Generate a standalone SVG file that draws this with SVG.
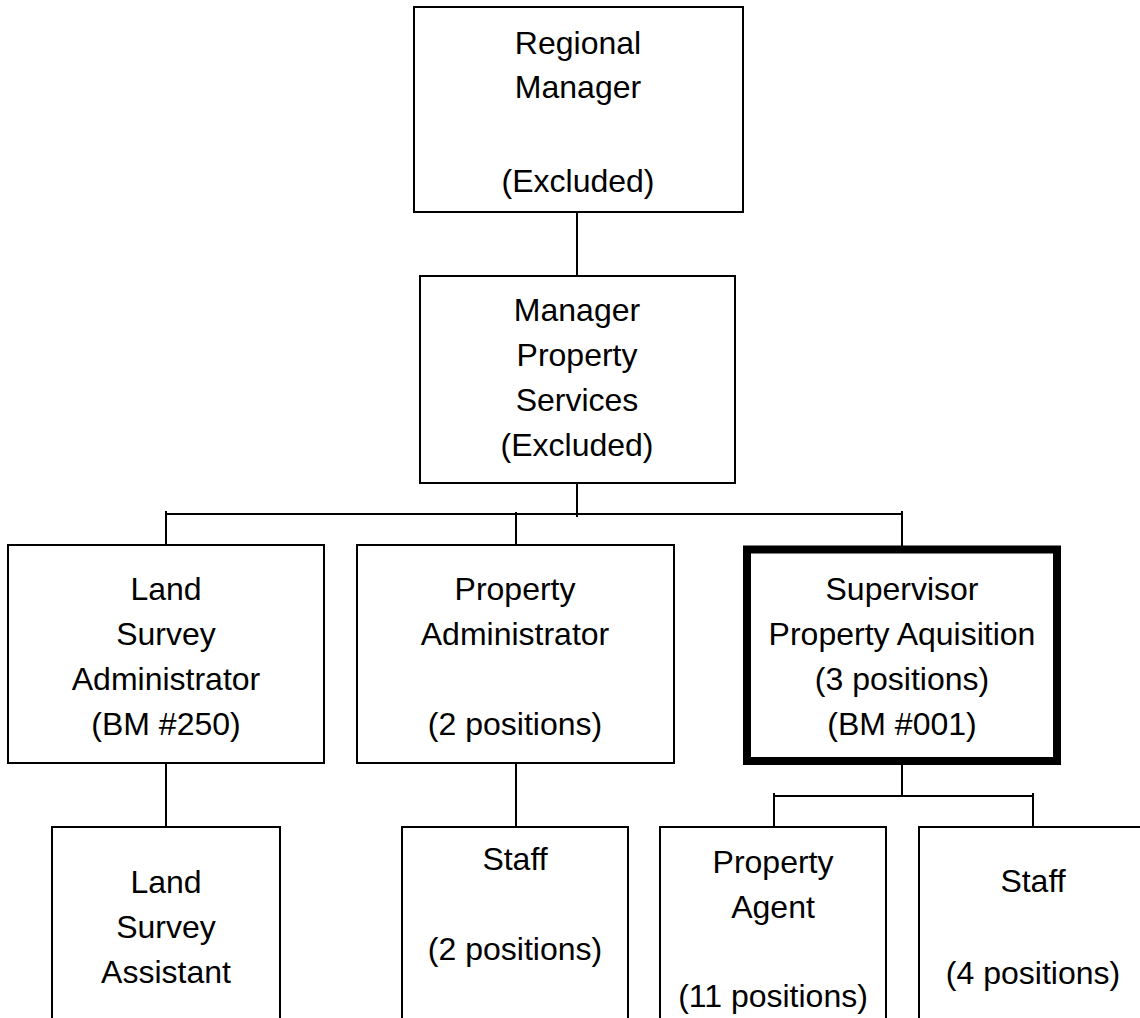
<svg xmlns="http://www.w3.org/2000/svg" width="1140" height="1018" viewBox="0 0 1140 1018">
<style>
.box{fill:#fff;stroke:#000;stroke-width:2}
.thick{fill:#fff;stroke:#000;stroke-width:8}
.t{font-family:"Liberation Sans",Arial,sans-serif;font-size:32px;fill:#000;text-anchor:middle}
.c{stroke:#000;stroke-width:2;fill:none}
</style>
<rect width="1140" height="1018" fill="#fff"/>
<g id="connectors">
<line class="c" x1="577" y1="212" x2="577" y2="276"/>
<line class="c" x1="577" y1="483" x2="577" y2="517"/>
<line class="c" x1="165" y1="514" x2="902" y2="514"/>
<line class="c" x1="166" y1="511" x2="166" y2="545"/>
<line class="c" x1="516" y1="512" x2="516" y2="545"/>
<line class="c" x1="902" y1="511" x2="902" y2="546"/>
<line class="c" x1="166" y1="763" x2="166" y2="827"/>
<line class="c" x1="516" y1="763" x2="516" y2="827"/>
<line class="c" x1="902" y1="765" x2="902" y2="796"/>
<line class="c" x1="774" y1="796" x2="1033" y2="796"/>
<line class="c" x1="774" y1="793" x2="774" y2="827"/>
<line class="c" x1="1033" y1="793" x2="1033" y2="827"/>
</g>
<g id="regional-manager">
<rect class="box" x="414" y="7" width="329" height="205"/>
<text class="t" x="578" y="54">Regional</text>
<text class="t" x="578" y="98">Manager</text>
<text class="t" x="578" y="192">(Excluded)</text>
</g>
<g id="manager-property-services">
<rect class="box" x="420" y="276" width="315" height="207"/>
<text class="t" x="577" y="321">Manager</text>
<text class="t" x="577" y="366">Property</text>
<text class="t" x="577" y="411">Services</text>
<text class="t" x="577" y="456">(Excluded)</text>
</g>
<g id="land-survey-administrator">
<rect class="box" x="8" y="545" width="316" height="218"/>
<text class="t" x="166" y="600">Land</text>
<text class="t" x="166" y="645">Survey</text>
<text class="t" x="166" y="690">Administrator</text>
<text class="t" x="166" y="735">(BM #250)</text>
</g>
<g id="property-administrator">
<rect class="box" x="357" y="545" width="317" height="218"/>
<text class="t" x="515" y="600">Property</text>
<text class="t" x="515" y="645">Administrator</text>
<text class="t" x="515" y="735">(2 positions)</text>
</g>
<g id="supervisor-property-aquisition">
<rect class="thick" x="747" y="549.5" width="310" height="211.5"/>
<text class="t" x="902" y="600">Supervisor</text>
<text class="t" x="902" y="645">Property Aquisition</text>
<text class="t" x="902" y="690">(3 positions)</text>
<text class="t" x="902" y="735">(BM #001)</text>
</g>
<g id="land-survey-assistant">
<rect class="box" x="52" y="827" width="228" height="200"/>
<text class="t" x="166" y="893">Land</text>
<text class="t" x="166" y="938">Survey</text>
<text class="t" x="166" y="983">Assistant</text>
</g>
<g id="staff-2">
<rect class="box" x="402" y="827" width="226" height="200"/>
<text class="t" x="515" y="870">Staff</text>
<text class="t" x="515" y="960">(2 positions)</text>
</g>
<g id="property-agent">
<rect class="box" x="660" y="827" width="226" height="200"/>
<text class="t" x="773" y="873">Property</text>
<text class="t" x="773" y="918">Agent</text>
<text class="t" x="773" y="1007">(11 positions)</text>
</g>
<g id="staff-4">
<rect class="box" x="919" y="827" width="228" height="200"/>
<text class="t" x="1033" y="892">Staff</text>
<text class="t" x="1033" y="984">(4 positions)</text>
</g>
</svg>
